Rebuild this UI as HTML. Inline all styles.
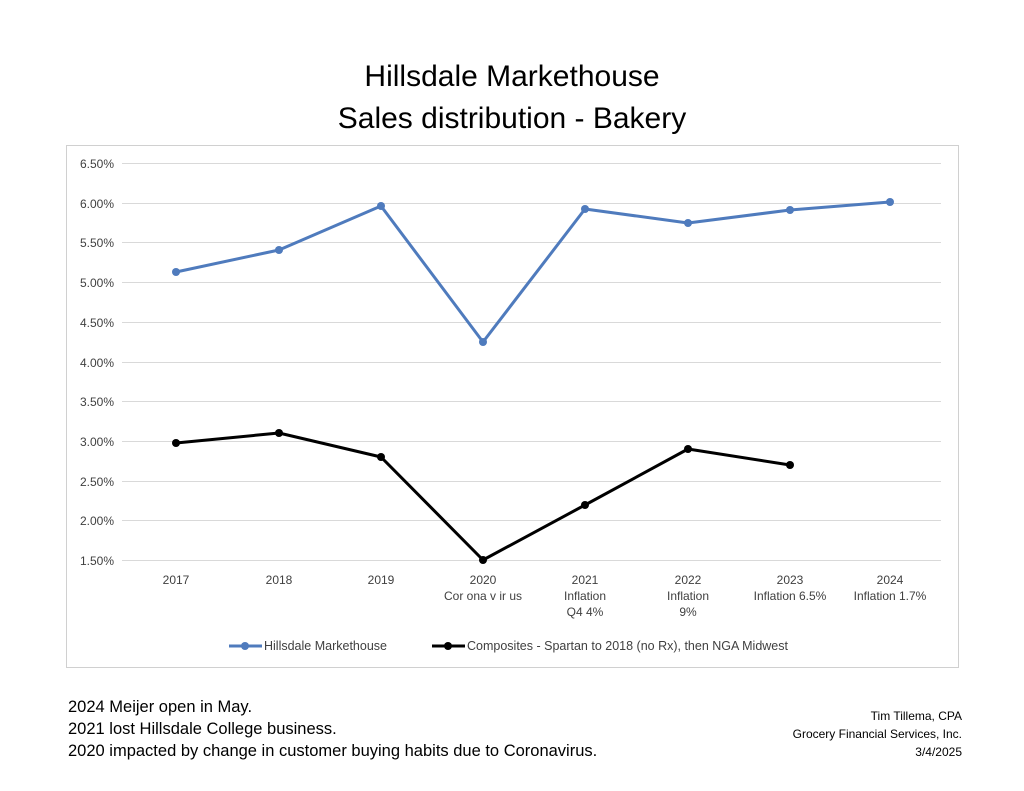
<!DOCTYPE html>
<html><head><meta charset="utf-8"><style>
body{margin:0;background:#fff;}
svg{display:block;font-family:"Liberation Sans",Calibri,sans-serif;}
</style></head><body>
<svg width="1024" height="791" viewBox="0 0 1024 791">
<rect width="1024" height="791" fill="#fff"/>
<text x="512" y="86" font-size="30" text-anchor="middle" fill="#000">Hillsdale Markethouse</text>
<text x="512" y="128" font-size="30" text-anchor="middle" fill="#000">Sales distribution - Bakery</text>
<rect x="66.5" y="145.5" width="892" height="522" fill="none" stroke="#d0d0d0"/>
<g stroke="#d9d9d9" stroke-width="1">
<line x1="122" x2="941" y1="163.5" y2="163.5"/><line x1="122" x2="941" y1="203.5" y2="203.5"/>
<line x1="122" x2="941" y1="242.5" y2="242.5"/><line x1="122" x2="941" y1="282.5" y2="282.5"/>
<line x1="122" x2="941" y1="322.5" y2="322.5"/><line x1="122" x2="941" y1="362.5" y2="362.5"/>
<line x1="122" x2="941" y1="401.5" y2="401.5"/><line x1="122" x2="941" y1="441.5" y2="441.5"/>
<line x1="122" x2="941" y1="481.5" y2="481.5"/><line x1="122" x2="941" y1="520.5" y2="520.5"/>
<line x1="122" x2="941" y1="560.5" y2="560.5"/>
</g>
<g font-size="12" text-anchor="end" fill="#404040">
<text x="114" y="168">6.50%</text><text x="114" y="208">6.00%</text><text x="114" y="247">5.50%</text>
<text x="114" y="287">5.00%</text><text x="114" y="327">4.50%</text><text x="114" y="367">4.00%</text>
<text x="114" y="406">3.50%</text><text x="114" y="446">3.00%</text><text x="114" y="486">2.50%</text>
<text x="114" y="525">2.00%</text><text x="114" y="565">1.50%</text>
</g>
<g font-size="12" text-anchor="middle" fill="#404040">
<text x="176" y="584">2017</text><text x="279" y="584">2018</text><text x="381" y="584">2019</text>
<text x="483" y="584">2020</text><text x="483" y="600">Cor ona v ir us</text>
<text x="585" y="584">2021</text><text x="585" y="600">Inflation</text><text x="585" y="616">Q4 4%</text>
<text x="688" y="584">2022</text><text x="688" y="600">Inflation</text><text x="688" y="616">9%</text>
<text x="790" y="584">2023</text><text x="790" y="600">Inflation 6.5%</text>
<text x="890" y="584">2024</text><text x="890" y="600">Inflation 1.7%</text>
</g>
<polyline points="176,272 279,250 381,206 483,342 585,209 688,223 790,210 890,202" fill="none" stroke="#4f7bbd" stroke-width="3" stroke-linejoin="round"/>
<g fill="#4f7bbd"><circle cx="176" cy="272" r="4"/><circle cx="279" cy="250" r="4"/><circle cx="381" cy="206" r="4"/><circle cx="483" cy="342" r="4"/><circle cx="585" cy="209" r="4"/><circle cx="688" cy="223" r="4"/><circle cx="790" cy="210" r="4"/><circle cx="890" cy="202" r="4"/></g>
<polyline points="176,443 279,433 381,457 483,560 585,505 688,449 790,465" fill="none" stroke="#000" stroke-width="3" stroke-linejoin="round"/>
<g fill="#000"><circle cx="176" cy="443" r="4"/><circle cx="279" cy="433" r="4"/><circle cx="381" cy="457" r="4"/><circle cx="483" cy="560" r="4"/><circle cx="585" cy="505" r="4"/><circle cx="688" cy="449" r="4"/><circle cx="790" cy="465" r="4"/></g>
<line x1="229" x2="262" y1="646" y2="646" stroke="#4f7bbd" stroke-width="3"/><circle cx="245" cy="646" r="4" fill="#4f7bbd"/>
<text x="264" y="650" font-size="12.5" fill="#404040">Hillsdale Markethouse</text>
<line x1="432" x2="465" y1="646" y2="646" stroke="#000" stroke-width="3"/><circle cx="448" cy="646" r="4" fill="#000"/>
<text x="467" y="650" font-size="12.5" fill="#404040">Composites - Spartan to 2018 (no Rx), then NGA Midwest</text>
<g font-size="16.5" fill="#000">
<text x="68" y="712"> 2024 Meijer open in May.</text>
<text x="68" y="734">2021 lost Hillsdale College business.</text>
<text x="68" y="756">2020 impacted by change in customer buying habits due to Coronavirus.</text>
</g>
<g font-size="12" fill="#000" text-anchor="end">
<text x="962" y="720">Tim Tillema, CPA</text>
<text x="962" y="738">Grocery Financial Services, Inc.</text>
<text x="962" y="756">3/4/2025</text>
</g>
</svg>
</body></html>
